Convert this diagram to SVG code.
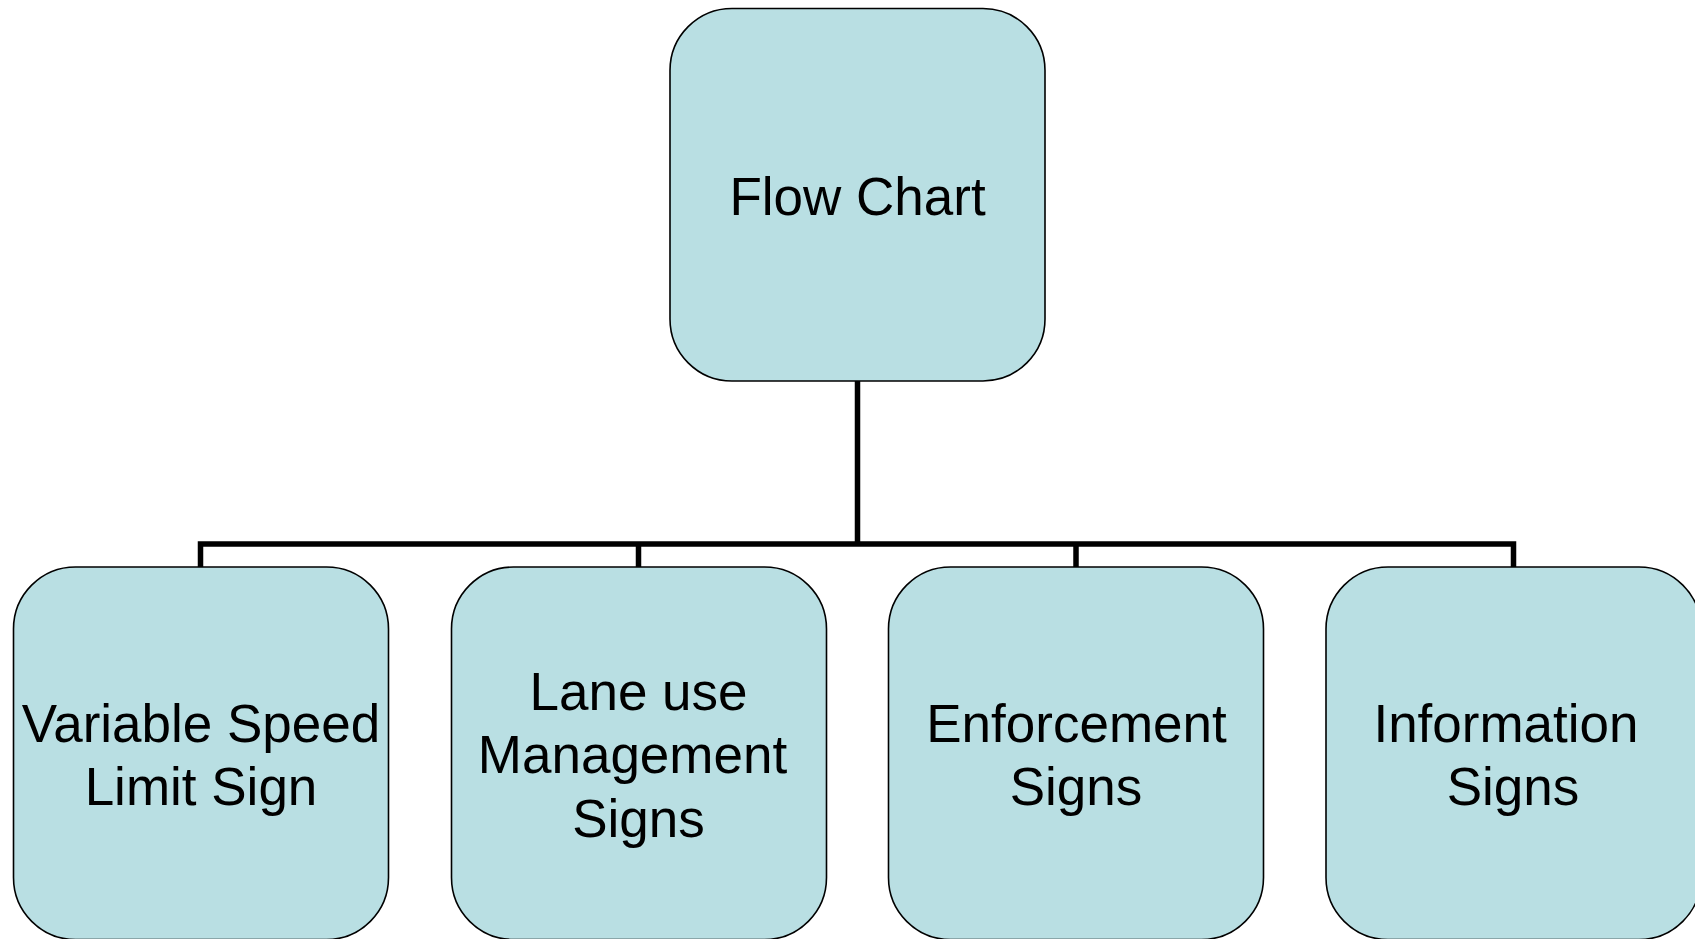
<svg xmlns="http://www.w3.org/2000/svg" width="1695" height="939" viewBox="0 0 1695 939">
  <style>
    .box { fill: #B9DFE3; stroke: #000000; stroke-width: 1.6; }
    .lbl { font-family: "Liberation Sans", Arial, sans-serif; font-size: 53px; fill: #000000; text-anchor: middle; }
    .conn { fill: none; stroke: #000000; stroke-width: 5.5; stroke-linejoin: miter; stroke-linecap: butt; }
  </style>
  <rect width="1695" height="939" fill="#FFFFFF"/>

  <!-- org-chart connectors -->
  <g id="connectors">
    <path class="conn" d="M857.5 381 V544"/>
    <path class="conn" d="M200.5 567 V544 H1513.5 V567"/>
    <path class="conn" d="M638.5 544 V567"/>
    <path class="conn" d="M1076 544 V567"/>
  </g>

  <g id="node-root">
    <rect class="box" x="670" y="8.5" width="375" height="372.5" rx="62" ry="62"/>
    <text class="lbl" x="857.5" y="215">Flow Chart</text>
  </g>

  <g id="node-variable-speed">
    <rect class="box" x="13.5" y="567" width="375" height="372.5" rx="62" ry="62"/>
    <text class="lbl" x="201" y="742">Variable Speed</text>
    <text class="lbl" x="201" y="805">Limit Sign</text>
  </g>

  <g id="node-lane-use">
    <rect class="box" x="451.5" y="567" width="375" height="372.5" rx="62" ry="62"/>
    <text class="lbl" x="638.5" y="710">Lane use</text>
    <text class="lbl" x="632.5" y="773">Management</text>
    <text class="lbl" x="638.5" y="837">Signs</text>
  </g>

  <g id="node-enforcement">
    <rect class="box" x="888.5" y="567" width="375" height="372.5" rx="62" ry="62"/>
    <text class="lbl" x="1076.5" y="742">Enforcement</text>
    <text class="lbl" x="1076" y="805">Signs</text>
  </g>

  <g id="node-information">
    <rect class="box" x="1326" y="567" width="375" height="372.5" rx="62" ry="62"/>
    <text class="lbl" x="1506" y="742">Information</text>
    <text class="lbl" x="1513" y="805">Signs</text>
  </g>
</svg>
